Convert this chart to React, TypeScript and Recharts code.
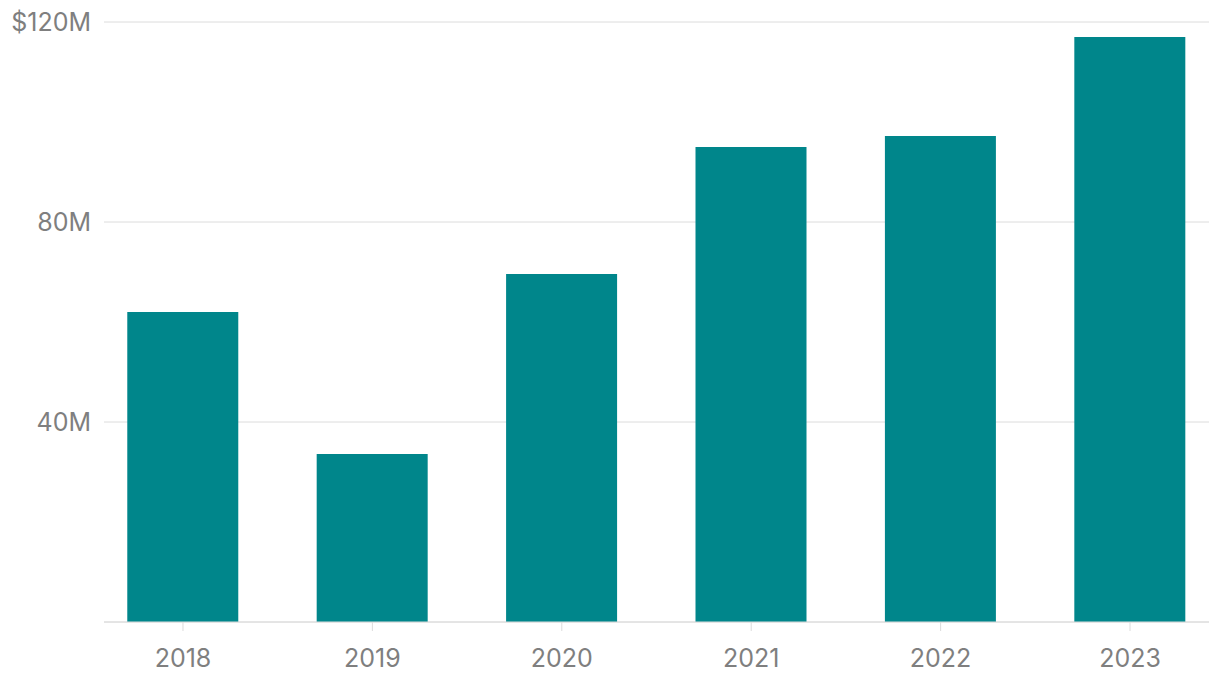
import { BarChart, Bar, XAxis, YAxis, CartesianGrid } from "recharts";

const YEARS = [2018, 2019, 2020, 2021, 2022, 2023];
const REVENUE = [62, 33.6, 69.6, 95, 97.2, 117];
const Y_TICKS = [0, 40, 80, 120];

const TEXT = "#7f7f7f";
const LINE = "#dcdcdc";

const data = YEARS.map((year, i) => ({ year, revenue: REVENUE[i] }));

const formatY = (v: number) => {
  if (v === 0) return "";
  if (v === 120) return `$${v}M`;
  return `${v}M`;
};

export default function App() {
  return (
    <BarChart
      width={1204}
      height={670}
      data={data}
      margin={{ top: 14, right: 3, left: 0, bottom: 0 }}
    >
      <CartesianGrid vertical={false} stroke={LINE} />
      <XAxis
        dataKey="year"
        type="number"
        domain={[2017.583, 2023.417]}
        ticks={YEARS}
        height={56}
        stroke={LINE}
        tickSize={9}
        tickMargin={18}
        tick={{ fill: TEXT, fontSize: 25, fontFamily: "Inter" }}
      />
      <YAxis
        domain={[0, 120]}
        ticks={Y_TICKS}
        width={96}
        axisLine={false}
        tickLine={false}
        tickSize={0}
        tickMargin={13}
        tickFormatter={formatY}
        tick={{ fill: TEXT, fontSize: 25, fontFamily: "Inter" }}
      />
      <Bar dataKey="revenue" fill="#00868b" barSize={111} isAnimationActive={false} />
    </BarChart>
  );
}
